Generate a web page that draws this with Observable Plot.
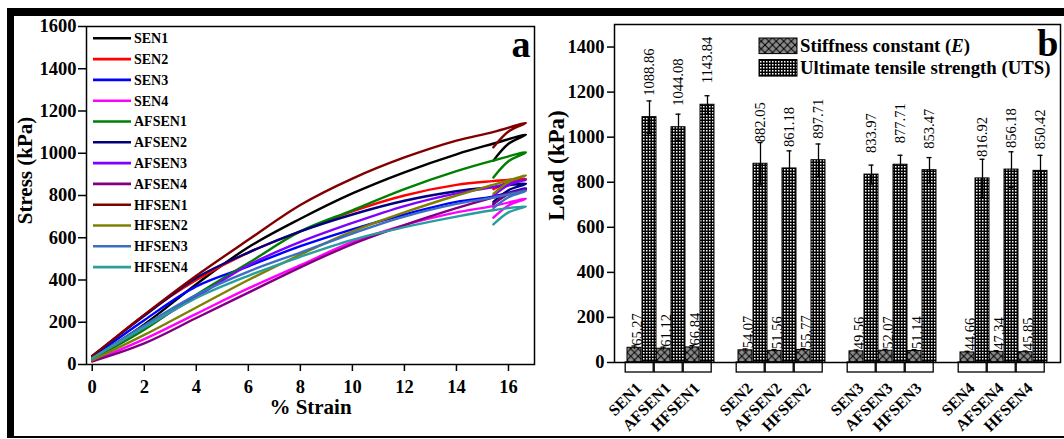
<!DOCTYPE html>
<html><head><meta charset="utf-8">
<script src="https://cdn.jsdelivr.net/npm/d3@7"></script>
<script src="https://cdn.jsdelivr.net/npm/@observablehq/plot@0.6"></script>
<style>
html,body{margin:0;padding:0;background:#fff}
body{width:1064px;height:439px;overflow:hidden;position:relative;font-family:"Liberation Serif",serif}
.layer{position:absolute;top:0}
.blk{position:absolute;background:#000}
svg, svg text{font-family:"Liberation Serif",serif !important}
</style></head><body>
<svg width="0" height="0" style="position:absolute">
<defs>
<pattern id="pE" patternUnits="userSpaceOnUse" width="7.5" height="7.5">
<rect width="7.5" height="7.5" fill="#8a8a8a"/>
<path d="M0,0L7.5,7.5M7.5,0L0,7.5" stroke="#000" stroke-width="1"/>
</pattern>
<pattern id="pU" patternUnits="userSpaceOnUse" width="3" height="3">
<rect width="3" height="3" fill="#000"/>
<rect x="1" y="1" width="1.5" height="1.5" fill="#fff"/>
</pattern>
</defs></svg>
<div id="a" class="layer" style="left:0"></div>
<div id="b0" class="layer" style="left:540px"></div>
<div id="b1" class="layer" style="left:540px"></div>
<div class="blk" style="left:7px;top:8px;width:1057px;height:8px"></div>
<div class="blk" style="left:7px;top:8px;width:7px;height:430px"></div>
<div class="blk" style="left:7px;top:436px;width:1057px;height:2px"></div>
<script>
// ---------- Panel a: stress-strain curves ----------
const seriesNames = ["SEN1","SEN2","SEN3","SEN4","AFSEN1","AFSEN2","AFSEN3","AFSEN4","HFSEN1","HFSEN2","HFSEN3","HFSEN4"];
const seriesColors = ["#000000","#ff0000","#0000ff","#ff00ff","#008000","#000080","#8000ff","#800080","#800000","#808000","#3c6fc0","#2a9d9d"];
// strain points: loading curve up to break, then the short return branch
const strainPts = [0, 2, 4, 6, 8, 10, 12, 14, 15.4, 16.67, 16.0, 15.42];
const stressSEN1   = [30, 190, 380, 555, 690, 810, 910, 995, 1045, 1088, 1045, 965];
const stressSEN2   = [35, 235, 400, 530, 630, 725, 800, 850, 868, 880, 862, 830];
const stressSEN3   = [35, 210, 370, 465, 560, 640, 710, 770, 795, 835, 809, 760];
const stressSEN4   = [15, 120, 240, 360, 470, 580, 660, 720, 750, 785, 753, 695];
const stressAFSEN1 = [25, 165, 330, 480, 630, 730, 830, 915, 965, 1004, 962, 885];
const stressAFSEN2 = [40, 230, 410, 530, 630, 710, 775, 820, 840, 855, 825, 770];
const stressAFSEN3 = [30, 175, 320, 470, 580, 670, 750, 810, 840, 875, 849, 800];
const stressAFSEN4 = [15, 100, 220, 340, 460, 570, 660, 740, 790, 830, 806, 760];
const stressHFSEN1 = [40, 235, 420, 590, 755, 880, 980, 1060, 1100, 1143, 1103, 1028];
const stressHFSEN2 = [20, 140, 270, 400, 520, 630, 720, 800, 850, 895, 863, 808];
const stressHFSEN3 = [30, 185, 330, 440, 530, 620, 700, 760, 790, 822, 792, 741];
const stressHFSEN4 = [30, 175, 315, 420, 510, 590, 650, 700, 730, 749, 720, 663];
const stressSeries = [stressSEN1, stressSEN2, stressSEN3, stressSEN4, stressAFSEN1, stressAFSEN2, stressAFSEN3, stressAFSEN4, stressHFSEN1, stressHFSEN2, stressHFSEN3, stressHFSEN4];
const xTicksA = [0, 2, 4, 6, 8, 10, 12, 14, 16];
const yTicksA = [0, 200, 400, 600, 800, 1000, 1200, 1400, 1600];

// ---------- Panel b: bar chart ----------
const samples = ["SEN1","AFSEN1","HFSEN1","SEN2","AFSEN2","HFSEN2","SEN3","AFSEN3","HFSEN3","SEN4","AFSEN4","HFSEN4"];
const stiffness    = [65.27, 61.12, 66.84, 54.07, 51.56, 55.77, 49.56, 52.07, 51.14, 44.66, 47.34, 45.85];
const stiffnessErr = [8, 7, 8, 6, 6, 6, 6, 6, 6, 5, 5, 5];
const uts          = [1088.86, 1044.08, 1143.84, 882.05, 861.18, 897.71, 833.97, 877.71, 853.47, 816.92, 856.18, 850.42];
const utsErr       = [72, 58, 40, 94, 78, 72, 42, 42, 56, 85, 79, 69];
const yTicksB = [0, 200, 400, 600, 800, 1000, 1200, 1400];
const legendLabels = ["Stiffness constant (E)", "Ultimate tensile strength (UTS)"];

const curveRows = [];
seriesNames.forEach((name, i) => {
  strainPts.forEach((s, j) => curveRows.push({series: name, strain: s, stress: stressSeries[i][j]}));
});
const rows = samples.map((name, i) => ({
  name, group: name.slice(-1), type: name.slice(0, -1),
  E: stiffness[i], Eerr: stiffnessErr[i], U: uts[i], Uerr: utsErr[i]
}));
const groups = Array.from(new Set(rows.map(d => d.group)));
const types = Array.from(new Set(rows.map(d => d.type)));

const FONT = "'Liberation Serif', serif";
const baseStyle = {fontFamily: FONT, fontSize: "18.5px", fontWeight: "bold", background: "transparent", color: "#000", overflow: "visible"};
const fmt = d => `${d}`;

function legendA(index, scales, values, dims) {
  const g = d3.create("svg:g").attr("text-anchor", "start");
  seriesNames.forEach((name, i) => {
    const y = dims.marginTop + 12.3 + i * 20.8;
    const x0 = dims.marginLeft + 7;
    g.append("line").attr("x1", x0).attr("x2", x0 + 38).attr("y1", y).attr("y2", y)
      .attr("stroke", seriesColors[i]).attr("stroke-width", 2.6);
    g.append("text").attr("x", x0 + 41).attr("y", y).attr("dy", "0.35em")
      .attr("text-anchor", "start").attr("font-family", FONT)
      .attr("font-size", 14).attr("font-weight", "bold").attr("fill", "#000").text(name);
  });
  return g.node();
}

const plotA = Plot.plot({
  width: 540, height: 439,
  marginLeft: 86, marginRight: 6, marginTop: 26, marginBottom: 75,
  style: baseStyle,
  x: {domain: [-0.22, 17], label: null},
  y: {domain: [0, 1600], label: null},
  color: {domain: seriesNames, range: seriesColors},
  marks: [
    Plot.axisX({ticks: xTicksA, tickFormat: fmt, tickSize: 7, tickPadding: 8, label: null, strokeWidth: 1.5}),
    Plot.axisY({ticks: yTicksA, tickFormat: fmt, tickSize: 8, tickPadding: 2, label: null, strokeWidth: 1.5}),
    Plot.line(curveRows, {x: "strain", y: "stress", z: "series", stroke: "series", strokeWidth: 2.4, curve: "catmull-rom"}),
    Plot.frame({stroke: "#000", strokeWidth: 1.5}),
    legendA,
    Plot.text(["% Strain"], {frameAnchor: "bottom", text: d => d, textAnchor: "middle", lineAnchor: "middle", dy: 43, fontSize: 21, fontWeight: "bold"}),
    Plot.text(["Stress (kPa)"], {frameAnchor: "left", text: d => d, textAnchor: "middle", lineAnchor: "middle", rotate: -90, dx: -61, dy: -25, fontSize: 21, fontWeight: "bold"}),
    Plot.text(["a"], {frameAnchor: "top-right", text: d => d, textAnchor: "end", lineAnchor: "middle", dx: -4, dy: 18, fontSize: 38, fontWeight: "bold"})
  ]
});
document.getElementById("a").appendChild(plotA);

function legendB(index, scales, values, dims) {
  const g = d3.create("svg:g").attr("text-anchor", "start");
  const x0 = dims.marginLeft + 145;
  const rowsY = [[dims.marginTop + 14, 15.6], [dims.marginTop + 35.5, 16.6]];
  const fills = ["url(#pE)", "url(#pU)"];
  rowsY.forEach(([y, h], i) => {
    g.append("rect").attr("x", x0).attr("y", y).attr("width", 38).attr("height", h)
      .attr("fill", fills[i]).attr("stroke", "#000").attr("stroke-width", 1);
    const t = g.append("text").attr("x", x0 + 41).attr("y", y + h - 2)
      .attr("text-anchor", "start").attr("font-family", FONT)
      .attr("font-size", 18.8).attr("font-weight", "bold").attr("fill", "#000");
    const lab = legendLabels[i];
    if (i === 0) {
      const k = lab.indexOf("(E)");
      t.append("tspan").text(lab.slice(0, k + 1));
      t.append("tspan").attr("font-style", "italic").text("E");
      t.append("tspan").text(")");
    } else {
      t.text(lab);
    }
  });
  return g.node();
}

const dimsB = {width: 524, height: 439, marginLeft: 74, marginRight: 4, marginTop: 24, marginBottom: 77};

const plotB0 = Plot.plot({
  ...dimsB,
  style: baseStyle,
  y: {domain: [0, 1500], label: null},
  marks: [
    Plot.axisY({ticks: yTicksB, tickFormat: fmt, tickSize: 7, tickPadding: 3, label: null, strokeWidth: 1.5}),
    Plot.frame({stroke: "#000", strokeWidth: 1.5}),
    Plot.text(["Load (kPa)"], {frameAnchor: "left", text: d => d, textAnchor: "middle", lineAnchor: "middle", rotate: -90, dx: -58, dy: -28, fontSize: 23, fontWeight: "bold"}),
    Plot.text(["b"], {frameAnchor: "top-right", text: d => d, textAnchor: "end", lineAnchor: "middle", dx: -2, dy: 19, fontSize: 38, fontWeight: "bold"}),
    legendB
  ]
});
document.getElementById("b0").appendChild(plotB0);

const plotB1 = Plot.plot({
  ...dimsB,
  style: baseStyle,
  fx: {domain: groups, paddingInner: 0.196, paddingOuter: 0.09, axis: null, label: null},
  x: {domain: types, padding: 0, axis: null},
  y: {domain: [0, 1500], axis: null},
  marks: [
    Plot.barY(rows, {fx: "group", x: "type", y: "E", fill: "url(#pE)", stroke: "#000", strokeWidth: 1, insetRight: 15}),
    Plot.barY(rows, {fx: "group", x: "type", y: "U", fill: "url(#pU)", stroke: "#000", strokeWidth: 1, insetLeft: 15}),
    Plot.ruleX(rows, {fx: "group", x: "type", y1: d => d.U - d.Uerr, y2: d => d.U + d.Uerr, dx: 7.5, stroke: "#000", strokeWidth: 1.3}),
    Plot.tickY(rows, {fx: "group", x: "type", y: d => d.U + d.Uerr, insetLeft: 19.5, insetRight: 4.5, stroke: "#000", strokeWidth: 1.3}),
    Plot.tickY(rows, {fx: "group", x: "type", y: d => d.U - d.Uerr, insetLeft: 19.5, insetRight: 4.5, stroke: "#000", strokeWidth: 1.3}),
    Plot.ruleX(rows, {fx: "group", x: "type", y1: d => d.E - d.Eerr, y2: d => d.E + d.Eerr, dx: -7.5, stroke: "#000", strokeWidth: 1.3}),
    Plot.tickY(rows, {fx: "group", x: "type", y: d => d.E + d.Eerr, insetLeft: 4.5, insetRight: 19.5, stroke: "#000", strokeWidth: 1.3}),
    Plot.text(rows, {fx: "group", x: "type", y: "U", text: d => d.U.toFixed(2), rotate: -90, textAnchor: "start", lineAnchor: "middle", dx: 7.5, dy: -21.5, fontSize: 14.5, fontWeight: "normal"}),
    Plot.text(rows, {fx: "group", x: "type", y: "E", text: d => d.E.toFixed(2), rotate: -90, textAnchor: "start", lineAnchor: "middle", dx: -4.3, dy: -2, fontSize: 14.5, fontWeight: "normal"}),
    Plot.barY(rows, {fx: "group", x: "type", y1: () => 0, y2: () => 0, insetBottom: -10, insetLeft: 0.5, insetRight: 0.5, dx: -2.3, fill: "none", stroke: "#000", strokeWidth: 1.3}),
    Plot.text(rows, {fx: "group", x: "type", frameAnchor: "bottom", text: "name", rotate: -45, textAnchor: "end", lineAnchor: "middle", dy: 23, dx: -3, fontSize: 16, fontWeight: "bold"})
  ]
});
document.getElementById("b1").appendChild(plotB1);
</script>
</body></html>
